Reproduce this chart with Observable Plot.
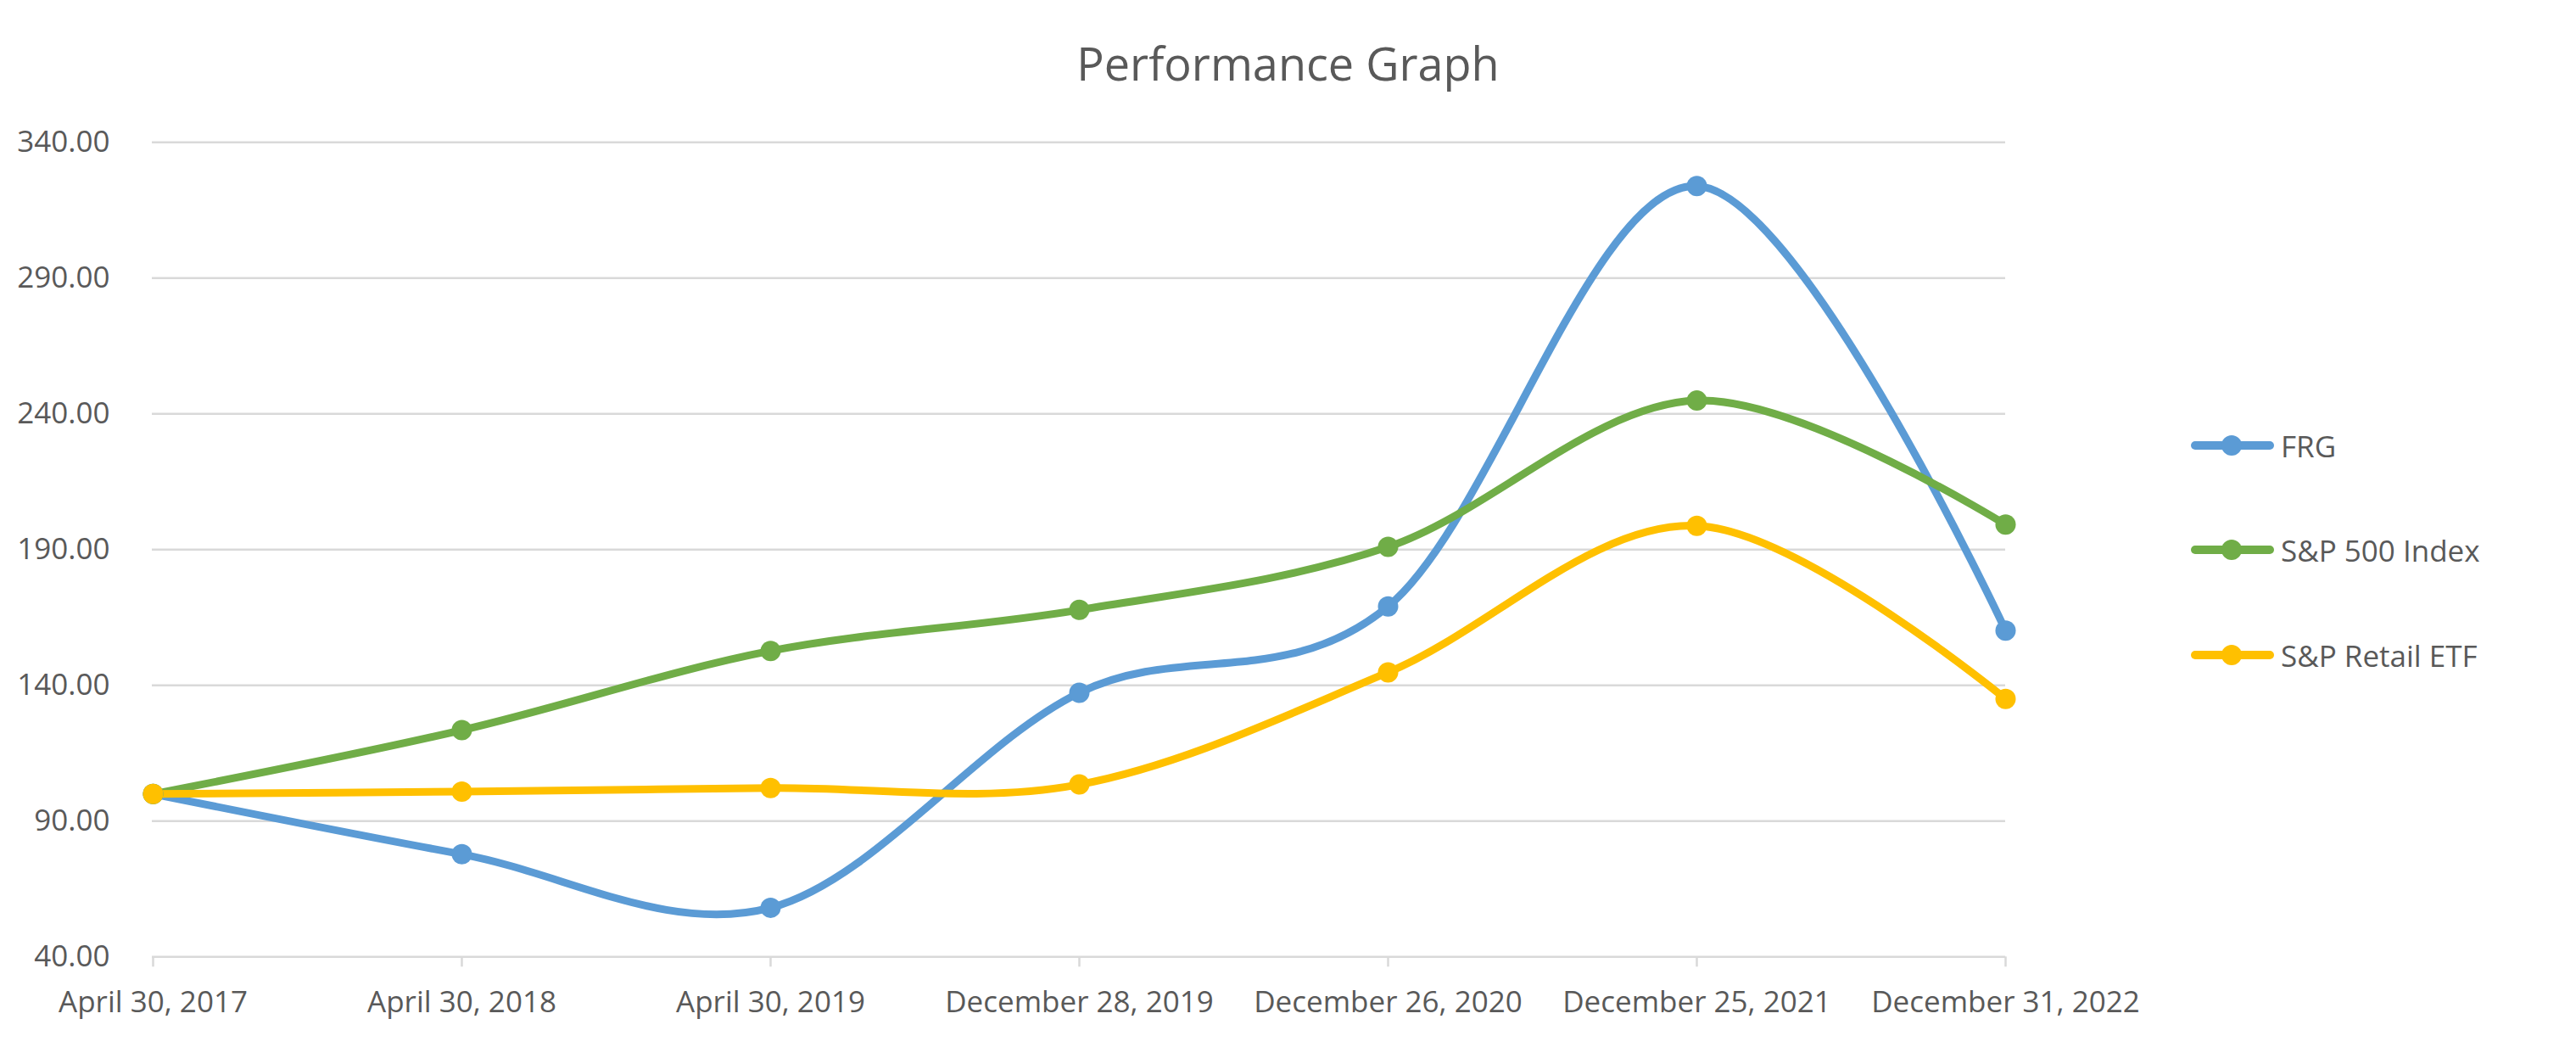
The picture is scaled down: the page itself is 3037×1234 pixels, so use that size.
<!DOCTYPE html>
<html>
<head>
<meta charset="utf-8">
<script src="https://cdn.jsdelivr.net/npm/d3@7"></script>
<script src="https://cdn.jsdelivr.net/npm/@observablehq/plot@0.6"></script>
<style>
  html, body { margin: 0; padding: 0; background: #fff; }
  body { width: 3037px; height: 1234px; overflow: hidden; position: relative; font-family: "Open Sans", sans-serif; color: #595959; }
  #title { box-sizing: border-box; height: 130px; padding-top: 47px; font-size: 54px; line-height: 54px; text-align: center; color: #595959; white-space: nowrap; }
  #legend { position: absolute; left: 2583px; top: 0; font-size: 35px; color: #595959; }
  .row { position: absolute; left: 0; display: flex; align-items: center; white-space: nowrap; height: 60px; }
  .row svg { display: block; margin-right: 6px; }
</style>
</head>
<body>
<div id="title">Performance Graph</div>
<div id="chart"></div>
<div id="legend"></div>
<script>
// ---- data ----
const dates = ["April 30, 2017", "April 30, 2018", "April 30, 2019", "December 28, 2019", "December 26, 2020", "December 25, 2021", "December 31, 2022"];
const frg    = [100, 77.8, 58.1, 137.3, 169.1, 323.9, 160.2];
const sp500  = [100, 123.5, 152.7, 167.8, 191.0, 244.9, 199.2];
const retail = [100, 100.9, 102.2, 103.5, 144.8, 198.8, 135.0];
const seriesNames = ["FRG", "S&P 500 Index", "S&P Retail ETF"];
const yTicks = [40, 90, 140, 190, 240, 290, 340];

// ---- styling ----
const seriesColors = ["#5B9BD5", "#70AD47", "#FFC000"];
const seriesValues = [frg, sp500, retail];

const data = seriesNames.flatMap((name, i) =>
  dates.map((d, j) => ({series: name, date: d, value: seriesValues[i][j]}))
);

const W = 3037, H = 1104;
const chart = Plot.plot({
  width: W,
  height: H,
  marginLeft: 179,
  marginRight: W - 2364,
  marginTop: 37.3,
  marginBottom: 106.7,
  style: {fontFamily: "'Open Sans', sans-serif", fontSize: "35px", color: "#595959", background: "#fff"},
  x: {type: "point", domain: dates, padding: 0, label: null},
  y: {domain: [40, 340], label: null},
  color: {domain: seriesNames, range: seriesColors},
  marks: [
    Plot.gridY(yTicks, {stroke: "#d9d9d9", strokeOpacity: 1, strokeWidth: 2.5}),
    Plot.axisY(yTicks, {tickSize: 0, tickPadding: 50, tickFormat: d3.format(".2f"), fill: "#595959", fontSize: 35, label: null}),
    Plot.axisX({tickSize: 12, tickPadding: 28, stroke: "#d9d9d9", strokeWidth: 2.5, strokeOpacity: 1, fill: "#595959", fontSize: 35, label: null}),
    Plot.line(data, {x: "date", y: "value", z: "series", stroke: "series", strokeWidth: 9, curve: "cardinal", tension: 0}),
    Plot.dot(data, {x: "date", y: "value", fill: "series", r: 12, stroke: null})
  ]
});
document.getElementById("chart").appendChild(chart);

// ---- legend (HTML, to the right of the plot) ----
const legend = document.getElementById("legend");
const rowCenters = [525, 648, 772];
seriesNames.forEach((name, i) => {
  const row = document.createElement("div");
  row.className = "row";
  row.style.top = (rowCenters[i] - 30) + "px";
  row.innerHTML = `<svg width="100" height="30" viewBox="0 0 100 30">
      <line x1="5" y1="15" x2="93" y2="15" stroke="${seriesColors[i]}" stroke-width="10" stroke-linecap="round"/>
      <circle cx="48" cy="15" r="12" fill="${seriesColors[i]}"/>
    </svg><span>${name}</span>`;
  legend.appendChild(row);
});
</script>
</body>
</html>
